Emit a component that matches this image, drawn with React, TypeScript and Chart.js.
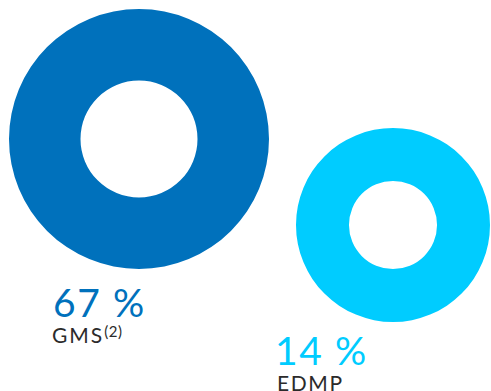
import React, { useEffect, useRef } from "react";
import { Chart, registerables } from "chart.js";

Chart.register(...registerables);

const categories = ["GMS", "EDMP"];
const shares = [67, 14];
const shareLabels = ["67 %", "14 %"];
const colors = ["#0071bc", "#00ccff"];

function Ring(props: { value: number; color: string; left: number; top: number; size: number; cutout: string }) {
  const ref = useRef<HTMLCanvasElement | null>(null);
  useEffect(() => {
    if (!ref.current) return;
    const chart = new Chart(ref.current, {
      type: "doughnut",
      data: {
        labels: [""],
        datasets: [{ data: [props.value], backgroundColor: [props.color], borderWidth: 0, hoverOffset: 0 }],
      },
      options: {
        responsive: false,
        animation: false,
        cutout: props.cutout,
        layout: { padding: 0 },
        plugins: { legend: { display: false }, tooltip: { enabled: false } },
        events: [],
      },
    });
    return () => chart.destroy();
  }, []);
  return (
    <canvas
      ref={ref}
      width={props.size}
      height={props.size}
      style={{ position: "absolute", left: props.left, top: props.top, width: props.size, height: props.size }}
    />
  );
}

export default function App() {
  const font = "Lato, 'Open Sans', sans-serif";
  return (
    <div style={{ position: "fixed", left: 0, top: 0, width: 491, height: 391, background: "#fff", overflow: "hidden" }}>
      <Ring value={shares[0]} color={colors[0]} left={9} top={9} size={260} cutout="45%" />
      <Ring value={shares[1]} color={colors[1]} left={296} top={128} size={194} cutout="45.4%" />
      <div style={{ position: "absolute", left: 53, top: 283, fontFamily: font, fontSize: 39, lineHeight: "39px", letterSpacing: 1.6, color: colors[0], whiteSpace: "nowrap" }}>
        {shareLabels[0]}
      </div>
      <div style={{ position: "absolute", left: 52, top: 324, fontFamily: font, fontSize: 21, lineHeight: "21px", letterSpacing: 2, color: "#2b2b2b", whiteSpace: "nowrap" }}>
        {categories[0]}
        <span style={{ fontSize: 15, letterSpacing: 0.5, verticalAlign: "top", position: "relative", top: -3 }}>(2)</span>
      </div>
      <div style={{ position: "absolute", left: 275, top: 331, fontFamily: font, fontSize: 39, lineHeight: "39px", letterSpacing: 1.6, color: colors[1], whiteSpace: "nowrap" }}>
        {shareLabels[1]}
      </div>
      <div style={{ position: "absolute", left: 277, top: 372, fontFamily: font, fontSize: 21, lineHeight: "21px", letterSpacing: 1.6, color: "#2b2b2b", whiteSpace: "nowrap" }}>
        {categories[1]}
      </div>
    </div>
  );
}
